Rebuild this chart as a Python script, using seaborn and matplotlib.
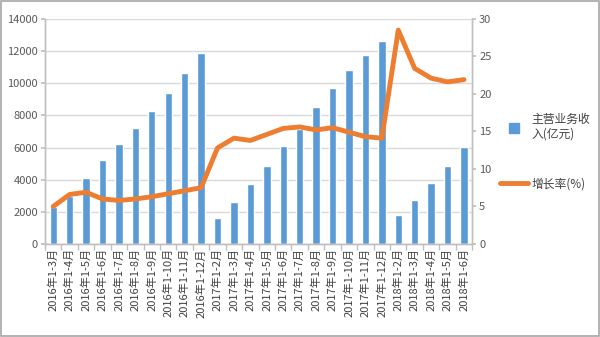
import matplotlib
matplotlib.use('Agg')
import matplotlib.pyplot as plt
import seaborn as sns
import pandas as pd
import numpy as np
from matplotlib.ticker import FixedLocator, MultipleLocator
from matplotlib.lines import Line2D
from matplotlib.patches import Rectangle

categories = [
    '2016年1-3月', '2016年1-4月', '2016年1-5月', '2016年1-6月', '2016年1-7月',
    '2016年1-8月', '2016年1-9月', '2016年1-10月', '2016年1-11月', '2016年1-12月',
    '2017年1-2月', '2017年1-3月', '2017年1-4月', '2017年1-5月', '2017年1-6月',
    '2017年1-7月', '2017年1-8月', '2017年1-9月', '2017年1-10月', '2017年1-11月',
    '2017年1-12月', '2018年1-2月', '2018年1-3月', '2018年1-4月', '2018年1-5月',
    '2018年1-6月',
]
revenue = [2280, 3000, 4100, 5200, 6190, 7230, 8300, 9420, 10620, 11860,
           1640, 2630, 3720, 4820, 6110, 7160, 8490, 9730, 10850, 11740,
           12610, 1820, 2710, 3770, 4840, 6020]
growth = [5.0, 6.6, 6.9, 6.0, 5.8, 6.0, 6.3, 6.7, 7.1, 7.5,
          12.8, 14.1, 13.8, 14.6, 15.4, 15.6, 15.2, 15.5, 14.9, 14.3,
          14.1, 28.5, 23.4, 22.1, 21.6, 21.9]

bar_label = '主营业务收\n入(亿元)'
line_label = '增长率(%)'

sns.set_theme(style='white')
plt.rcParams['font.family'] = ['Noto Sans CJK SC', 'DejaVu Sans']
plt.rcParams['axes.unicode_minus'] = False

df = pd.DataFrame({'cat': categories, 'rev': revenue, 'growth': growth})

fig = plt.figure(figsize=(6, 3.37), dpi=100)
ax = fig.add_axes([0.075, 0.276, 0.712, 0.668])
sns.barplot(data=df, x='cat', y='rev', color='#5B9BD5', width=0.45,
            saturation=1, ax=ax, zorder=2)
ax.set_xlim(-0.5, len(categories) - 0.5)
ax.set_ylim(0, 14000)
ax.yaxis.set_major_locator(MultipleLocator(2000))
ax.set_axisbelow(True)
ax.yaxis.grid(True, color='#D9D9D9', lw=1)
ax.set_xlabel('')
ax.set_ylabel('')

ax2 = ax.twinx()
sns.lineplot(data=df, x='cat', y='growth', color='#ED7D31', linewidth=3.5,
             ax=ax2, sort=False, solid_capstyle='round', solid_joinstyle='round')
ax2.set_ylim(0, 30)
ax2.yaxis.set_major_locator(MultipleLocator(5))
ax2.set_ylabel('')
ax2.set_xlabel('')
ax2.grid(False)
ax.set_xlim(-0.5, len(categories) - 0.5)

for a in (ax, ax2):
    for s in a.spines.values():
        s.set_color('#BFBFBF')
        s.set_linewidth(1)
    a.spines['top'].set_visible(False)

ax.tick_params(axis='y', labelsize=8, colors='#595959', length=3, color='#BFBFBF',
               left=True, pad=2)
ax2.tick_params(axis='y', labelsize=8, colors='#595959', length=3, color='#BFBFBF',
                right=True, pad=2)
ax.set_xticks(range(len(categories)))
ax.set_xticklabels(categories, rotation=90, fontsize=8, color='#404040')
ax.tick_params(axis='x', which='major', length=0, pad=3)
ax.xaxis.set_minor_locator(FixedLocator(np.arange(-0.5, len(categories), 1.0)))
ax.tick_params(axis='x', which='minor', length=4, color='#BFBFBF', bottom=True)
ax2.tick_params(axis='x', which='both', length=0)

handles = [
    Line2D([], [], marker='s', linestyle='none', color='#5B9BD5', markersize=7),
    Line2D([], [], color='#ED7D31', linewidth=3.5),
]
fig.legend(handles, [bar_label, line_label], loc='center left',
           bbox_to_anchor=(0.815, 0.55), frameon=False, fontsize=8.5,
           labelspacing=3.1, handlelength=2.4, handletextpad=0.3,
           labelcolor='#404040')

fig.patches.append(Rectangle((0.0015, 0.003), 0.997, 0.994, transform=fig.transFigure,
                             fill=False, edgecolor='#A6A6A6', lw=1.2))

fig.savefig('out.png', dpi=100)
